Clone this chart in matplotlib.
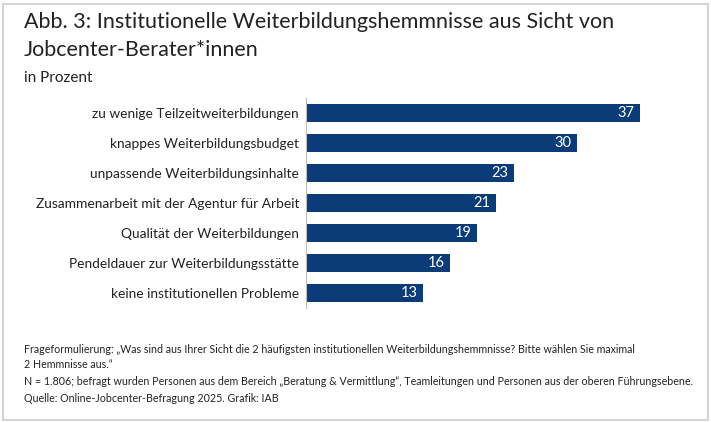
import matplotlib.pyplot as plt
from matplotlib.patches import Rectangle

categories = [
    "zu wenige Teilzeitweiterbildungen",
    "knappes Weiterbildungsbudget",
    "unpassende Weiterbildungsinhalte",
    "Zusammenarbeit mit der Agentur für Arbeit",
    "Qualität der Weiterbildungen",
    "Pendeldauer zur Weiterbildungsstätte",
    "keine institutionellen Probleme",
]
values = [37, 30, 23, 21, 19, 16, 13]

title = "Abb. 3: Institutionelle Weiterbildungshemmnisse aus Sicht von\nJobcenter-Berater*innen"
subtitle = "in Prozent"
notes = [
    "Frageformulierung: „Was sind aus Ihrer Sicht die 2 häufigsten institutionellen Weiterbildungshemmnisse? Bitte wählen Sie maximal\n2 Hemmnisse aus.“",
    "N = 1.806; befragt wurden Personen aus dem Bereich „Beratung & Vermittlung“, Teamleitungen und Personen aus der oberen Führungsebene.",
    "Quelle: Online-Jobcenter-Befragung 2025. Grafik: IAB",
]

bar_color = "#0c3c78"
W, H = 711, 422
plt.rcParams['font.family'] = ['Lato', 'DejaVu Sans']

fig = plt.figure(figsize=(W / 100, H / 100), dpi=100)
fig.patches.append(Rectangle((3 / W, 2 / H), 705 / W, 416 / H, transform=fig.transFigure,
                             fill=False, edgecolor="#d4d4d4", linewidth=1.5))

ax = fig.add_axes([306 / W, 1 - 308 / H, 361 / W, 210 / H])
y = list(range(len(values)))
ax.barh(y, values, height=0.63, color=bar_color)
ax.set_ylim(len(values) - 0.5, -0.5)
ax.set_xlim(0, 40)
for i, v in enumerate(values):
    ax.text(v - 0.6, i, str(v), color="white", ha="right", va="center", fontsize=10.5)
ax.set_yticks(y)
ax.set_yticklabels(categories, fontsize=9.9, color="#222222")
ax.tick_params(axis="y", length=0, pad=5)
ax.set_xticks([])
for s in ["top", "right", "bottom"]:
    ax.spines[s].set_visible(False)
ax.spines["left"].set_color("#bbbbbb")

fig.text(24 / W, 1 - 12 / H, title, fontsize=15.5, va="top", ha="left", color="#222222", linespacing=1.5)
fig.text(24 / W, 1 - 71 / H, subtitle, fontsize=11, va="top", ha="left", color="#222222")

note_y = [344, 376, 393]
for t, ny in zip(notes, note_y):
    fig.text(24 / W, 1 - ny / H, t, fontsize=7.65, va="top", ha="left", color="#222222",
             family=['Liberation Sans Narrow', 'Lato'], linespacing=1.45)

fig.savefig("out.png", dpi=100)
